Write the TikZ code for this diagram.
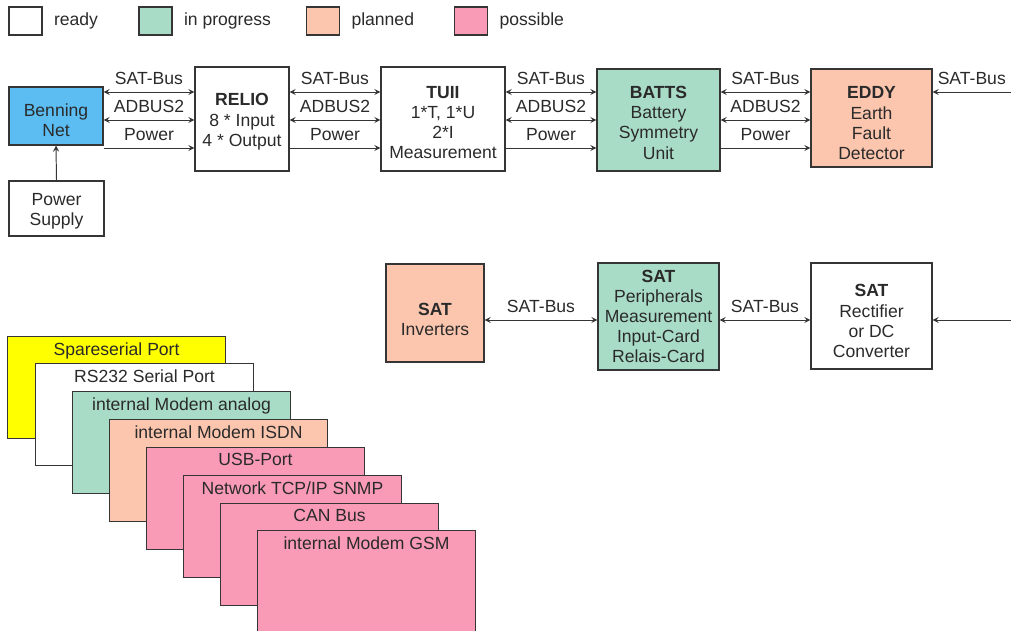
\documentclass[tikz,border=0pt]{standalone}
\usepackage{fontspec}
\setmainfont{Liberation Sans}
\usetikzlibrary{arrows,positioning}
\newlength\pxu
\setlength\pxu{0.02cm}
\newcommand\lowtxt[1]{\rule{0pt}{#1}}
\definecolor{linegray}{HTML}{353535}
\definecolor{txtgray}{HTML}{2A2A2A}
\definecolor{netcol}{HTML}{5BBDF2}
\definecolor{progcol}{HTML}{A9DCC7}
\definecolor{plancol}{HTML}{FCC6AE}
\definecolor{posscol}{HTML}{F99BB7}
\definecolor{sparecol}{HTML}{FFFF00}
\tikzset{blk/.style={draw=linegray, line width=0.6pt, rectangle, align=center, inner sep=1pt, text=txtgray, font=\fontsize{10}{11.5}\selectfont}}
\tikzstyle{key}=[blk, minimum width=33\pxu, minimum height=28\pxu]
\tikzstyle{keytxt}=[inner sep=0pt, text=txtgray, font=\fontsize{10}{11.5}\selectfont]
\tikzstyle{lbl}=[above=1pt, inner sep=3pt, text=txtgray, font=\fontsize{10}{11.5}\selectfont]
\tikzstyle{card}=[draw=linegray, line width=0.6pt, rectangle, anchor=north west, minimum width=218\pxu, minimum height=102\pxu]
\tikzstyle{cardlbl}=[anchor=north, inner sep=3.4pt, text=txtgray, font=\fontsize{10}{11.5}\selectfont]

\begin{document}
\begin{tikzpicture}[x=0.02cm, y=-0.02cm, >=stealth, line width=0.55pt, draw=linegray]
\useasboundingbox (0,0) rectangle (1011,631);

% legend
\node[key, fill=white] (kready) at (25.5,21) {};
\node[keytxt, right=11\pxu of kready] (tready) {ready};
\node[key, fill=progcol] (kprog) at (155.5,21) {};
\node[keytxt, right=11\pxu of kprog] (tprog) {in progress};
\node[key, fill=plancol] (kplan) at (323,21) {};
\node[keytxt, right=11\pxu of kplan] (tplan) {planned};
\node[key, fill=posscol] (kposs) at (471,21) {};
\node[keytxt, right=11\pxu of kposs] (tposs) {possible};

% bus rows
\coordinate (satrow) at (0,92);
\coordinate (adbrow) at (0,120);
\coordinate (pwrrow) at (0,148);
\coordinate (lowrow) at (0,320);

% upper row
\node[blk, fill=netcol, minimum width=94\pxu, minimum height=58\pxu] (net) at (56,116) {\lowtxt{11.8pt}Benning\\Net};
\node[blk, minimum width=95\pxu, minimum height=55\pxu] (supply) at (56.5,208.5) {\lowtxt{9.6pt}Power\\Supply};
\node[blk, minimum width=94\pxu, minimum height=104\pxu] (relio) at (242,119) {\lowtxt{10.1pt}\textbf{RELIO}\\8 * Input\\4 * Output};
\node[blk, minimum width=124\pxu, minimum height=104\pxu] (tuii) at (443,119) {\lowtxt{10.7pt}\textbf{TUII}\\1*T, 1*U\\2*I\\Measurement};
\node[blk, fill=progcol, minimum width=123\pxu, minimum height=102\pxu] (batts) at (658.5,120) {\lowtxt{10.1pt}\textbf{BATTS}\\Battery\\Symmetry\\Unit};
\node[blk, fill=plancol, minimum width=121\pxu, minimum height=98\pxu] (eddy) at (871.5,118) {\lowtxt{12.9pt}\textbf{EDDY}\\Earth\\Fault\\Detector};

\foreach \a/\b in {net/relio, relio/tuii, tuii/batts, batts/eddy} {
  \draw[<->] (\a.east |- satrow) -- node[lbl] {SAT-Bus} (\b.west |- satrow);
  \draw[<->] (\a.east |- adbrow) -- node[lbl] {ADBUS2} (\b.west |- adbrow);
  \draw[->] (\a.east |- pwrrow) -- node[lbl] {Power} (\b.west |- pwrrow);
}
\coordinate (satin) at (1011,92);
\draw[->] (satin) -- node[lbl] {SAT-Bus} (eddy.east |- satrow);
\draw[->] (supply.north) -- (net.south);

% lower row
\node[blk, fill=plancol, minimum width=98\pxu, minimum height=98\pxu] (inv) at (435,313) {\lowtxt{14pt}\textbf{SAT}\\Inverters};
\node[blk, fill=progcol, minimum width=121\pxu, minimum height=107\pxu] (periph) at (658.5,316.5) {\textbf{SAT}\\Peripherals\\Measurement\\Input-Card\\Relais-Card};
\node[blk, minimum width=121\pxu, minimum height=106\pxu] (rect) at (871.5,316) {\lowtxt{12.9pt}\textbf{SAT}\\Rectifier\\or DC\\Converter};

\draw[<->] (inv.east |- lowrow) -- node[lbl] {SAT-Bus} (periph.west |- lowrow);
\draw[<->] (periph.east |- lowrow) -- node[lbl] {SAT-Bus} (rect.west |- lowrow);
\coordinate (rectin) at (1011,320);
\draw[->] (rectin) -- (rect.east |- lowrow);

% interface cards
\foreach \i/\cx/\cy/\fc/\txt in {0/7/336/sparecol/Spareserial Port,
    1/35/363/white/RS232 Serial Port,
    2/72/391/progcol/internal Modem analog,
    3/109/419/plancol/internal Modem ISDN,
    4/146/447/posscol/USB-Port,
    5/183/475/posscol/{Network TCP/IP SNMP},
    6/220/503/posscol/CAN Bus,
    7/257/530/posscol/internal Modem GSM} {
  \node[card, fill=\fc] (c\i) at (\cx,\cy) {};
  \node[cardlbl] (t\i) at (c\i.north) {\txt};
}
\end{tikzpicture}
\end{document}
